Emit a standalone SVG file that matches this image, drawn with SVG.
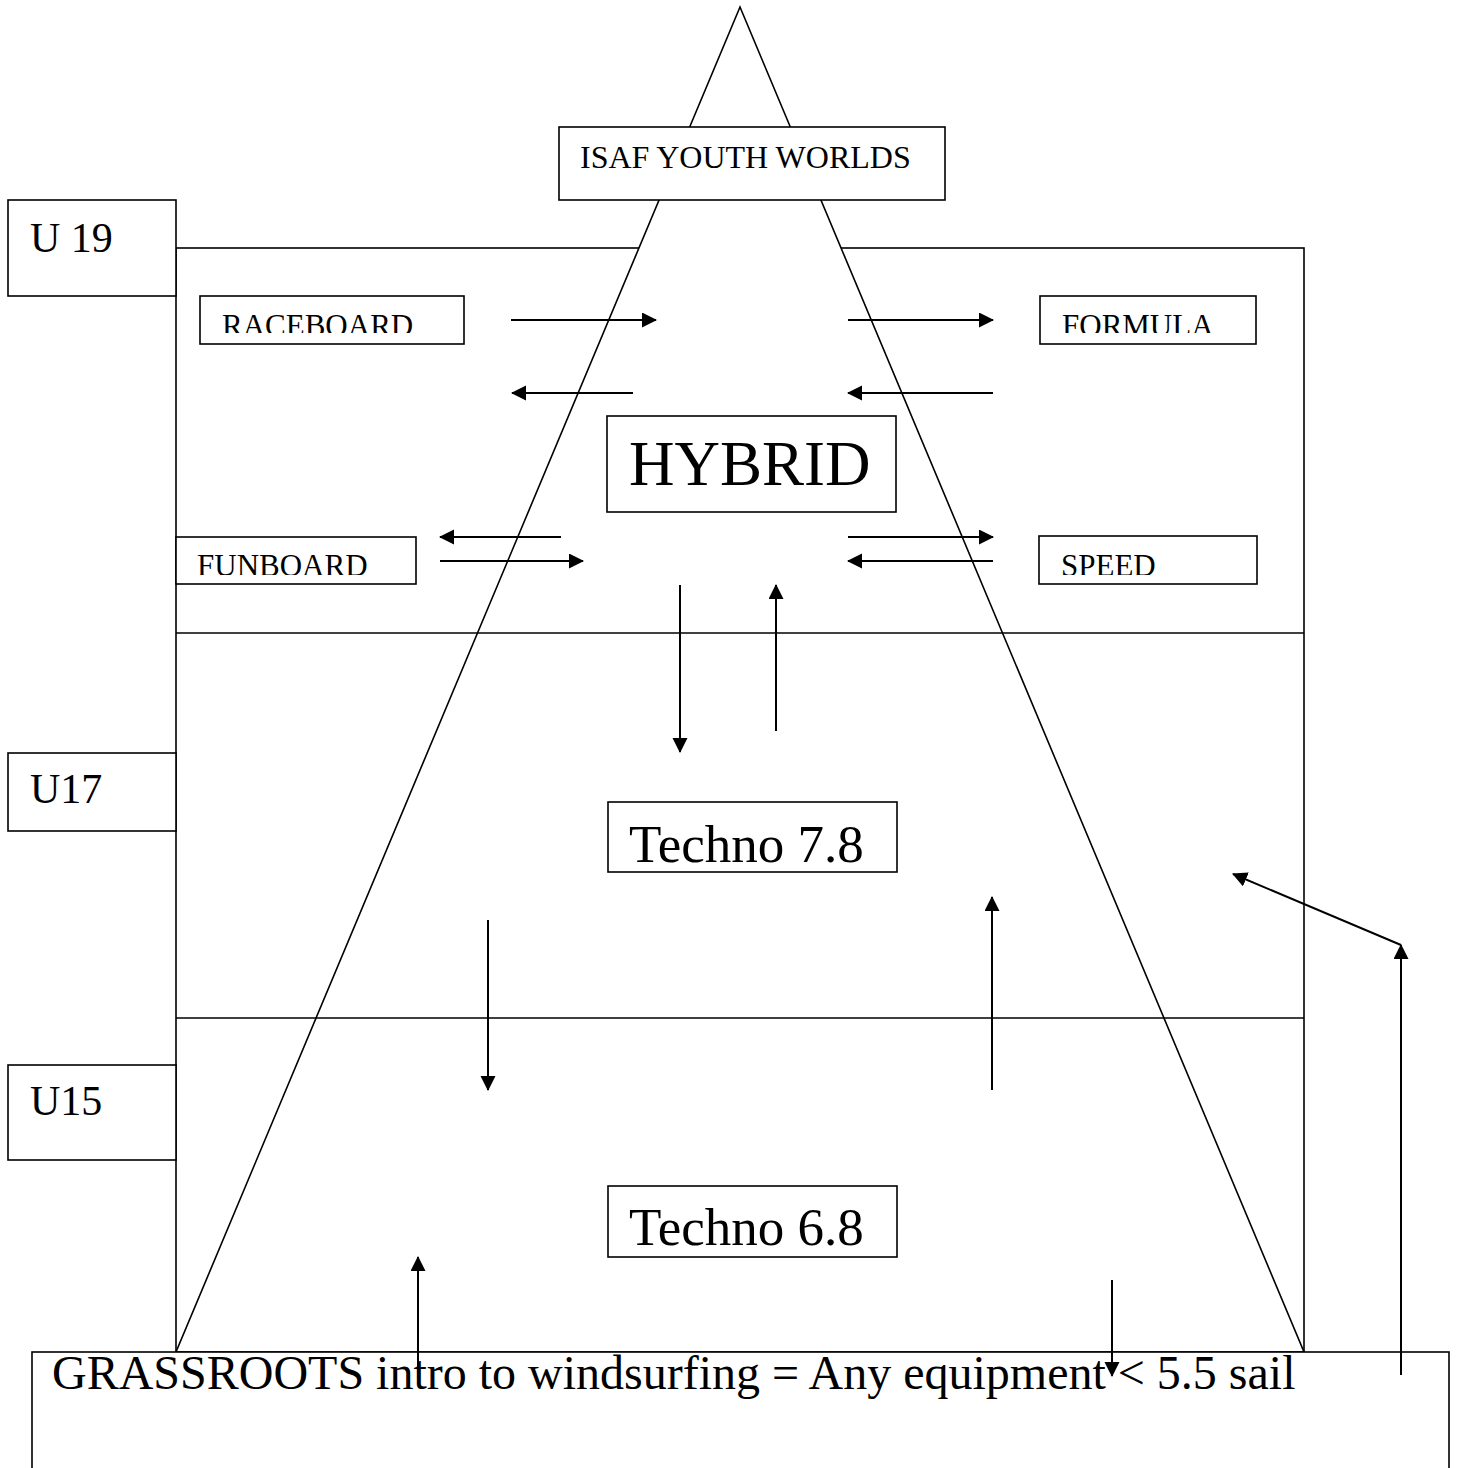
<svg xmlns="http://www.w3.org/2000/svg" width="1459" height="1468" viewBox="0 0 1459 1468">
<style>
.ln{stroke:#000;stroke-width:1.6;fill:none}
.bx{stroke:#000;stroke-width:1.6;fill:#fff}
.ar{stroke:#000;stroke-width:2;fill:none;marker-end:url(#ah)}
text{font-family:"Liberation Serif","Times New Roman",serif;fill:#000}
.s{font-size:31px}
.m{font-size:42px}
.l{font-size:53px}
</style>
<defs>
<marker id="ah" markerUnits="userSpaceOnUse" markerWidth="16" markerHeight="16" refX="14" refY="7.5" orient="auto">
<path d="M0,0 L15,7.5 L0,15 z" fill="#000"/>
</marker>
<clipPath id="c1"><rect x="200" y="296" width="264" height="37"/></clipPath>
<clipPath id="c2"><rect x="1040" y="296" width="216" height="37"/></clipPath>
<clipPath id="c3"><rect x="176" y="537" width="240" height="38"/></clipPath>
<clipPath id="c4"><rect x="1039" y="536" width="218" height="39"/></clipPath>
</defs>
<rect width="1459" height="1468" fill="#fff"/>
<g id="frame">
<rect class="ln" x="176" y="248" width="1128" height="1104"/>
<polygon points="740,7 176,1352 1304,1352" fill="#fff" stroke="#000" stroke-width="1.6"/>
<line class="ln" x1="176" y1="633" x2="1304" y2="633"/>
<line class="ln" x1="176" y1="1018" x2="1304" y2="1018"/>
</g>
<g id="isaf">
<rect class="bx" x="559" y="127" width="386" height="73"/>
<text x="580" y="168" style="font-size:32px">ISAF YOUTH WORLDS</text>
</g>
<g id="u19">
<rect class="bx" x="8" y="200" width="168" height="96"/>
<text class="m" x="30" y="252">U 19</text>
</g>
<g id="u17">
<rect class="bx" x="8" y="753" width="168" height="78"/>
<text class="m" x="30" y="803">U17</text>
</g>
<g id="u15">
<rect class="bx" x="8" y="1065" width="168" height="95"/>
<text class="m" x="30" y="1115">U15</text>
</g>
<g id="raceboard">
<rect class="bx" x="200" y="296" width="264" height="48"/>
<text class="s" x="222" y="336" clip-path="url(#c1)">RACEBOARD</text>
</g>
<g id="formula">
<rect class="bx" x="1040" y="296" width="216" height="48"/>
<text class="s" x="1062" y="336" clip-path="url(#c2)">FORMULA</text>
</g>
<g id="funboard">
<rect class="bx" x="176" y="537" width="240" height="47"/>
<text class="s" x="197" y="576" clip-path="url(#c3)">FUNBOARD</text>
</g>
<g id="speed">
<rect class="bx" x="1039" y="536" width="218" height="48"/>
<text class="s" x="1061" y="576" clip-path="url(#c4)">SPEED</text>
</g>
<g id="hybrid">
<rect class="bx" x="607" y="416" width="289" height="96"/>
<text x="629" y="485" style="font-size:63px">HYBRID</text>
</g>
<g id="techno78">
<rect class="bx" x="608" y="802" width="289" height="70"/>
<text class="l" x="629" y="862">Techno 7.8</text>
</g>
<g id="techno68">
<rect class="bx" x="608" y="1186" width="289" height="71"/>
<text class="l" x="629" y="1245">Techno 6.8</text>
</g>
<g id="grassroots">
<rect class="bx" x="32" y="1352" width="1417" height="130"/>
<text x="52" y="1389" style="font-size:48px">GRASSROOTS intro to windsurfing = Any equipment &lt; 5.5 sail</text>
</g>
<g id="connectors">
<line class="ar" x1="511" y1="320" x2="656" y2="320"/>
<line class="ar" x1="633" y1="393" x2="512" y2="393"/>
<line class="ar" x1="848" y1="320" x2="993" y2="320"/>
<line class="ar" x1="993" y1="393" x2="848" y2="393"/>
<line class="ar" x1="561" y1="537" x2="440" y2="537"/>
<line class="ar" x1="440" y1="561" x2="583" y2="561"/>
<line class="ar" x1="848" y1="537" x2="993" y2="537"/>
<line class="ar" x1="993" y1="561" x2="848" y2="561"/>
<line class="ar" x1="680" y1="585" x2="680" y2="752"/>
<line class="ar" x1="776" y1="731" x2="776" y2="585"/>
<line class="ar" x1="488" y1="920" x2="488" y2="1090"/>
<line class="ar" x1="992" y1="1090" x2="992" y2="897"/>
<line class="ar" x1="418" y1="1377" x2="418" y2="1257"/>
<line class="ar" x1="1112" y1="1280" x2="1112" y2="1376"/>
<line class="ar" x1="1401" y1="1375" x2="1401" y2="945"/>
<line class="ar" x1="1401" y1="945" x2="1233" y2="874"/>
</g>
</svg>
